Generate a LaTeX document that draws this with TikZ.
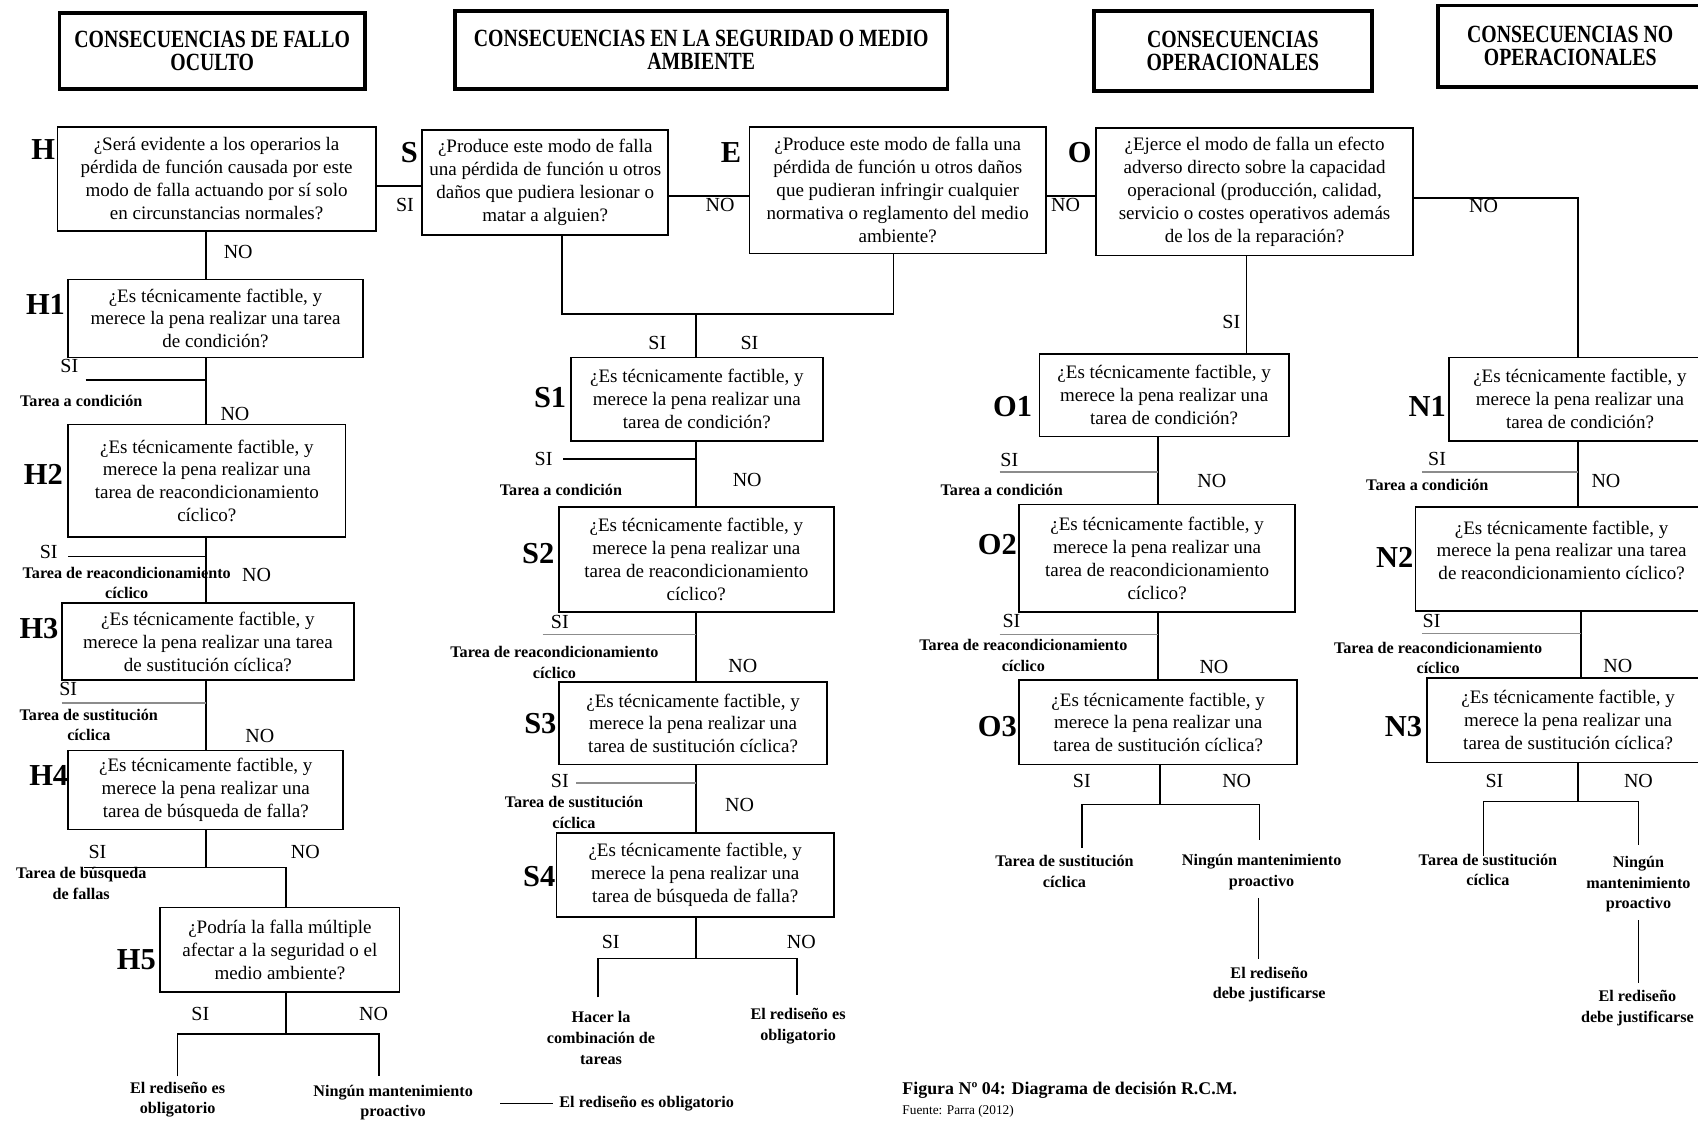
\documentclass[tikz,border=0pt]{standalone}
\usepackage{fontspec}
\setmainfont{Liberation Serif}
\newfontfamily\headfont{Liberation Serif}[FakeStretch=0.8]
\usepackage{tikz}

\begin{document}
\begin{tikzpicture}[x=0.02cm, y=-0.02cm,
    headbox/.style 2 args={draw, line width=2pt, align=center, inner sep=0pt,
      minimum width=#1*0.02cm, minimum height=#2*0.02cm,
      font=\headfont\fontsize{13}{12.5}\selectfont\bfseries},
    qbox/.style 2 args={draw, line width=0.9pt, align=center, inner sep=0pt,
      minimum width=#1*0.02cm, minimum height=#2*0.02cm,
      font=\fontsize{10}{12}\selectfont},
    tag/.style={inner sep=0pt, font=\fontsize{16}{16}\selectfont\bfseries},
    ans/.style={inner sep=0pt, font=\fontsize{10.5}{12}\selectfont},
    task/.style={inner xsep=0pt, inner ysep=4pt, align=center,
      font=\fontsize{8.5}{10.8}\selectfont\bfseries},
    link/.style={line width=0.9pt},
    glink/.style={line width=0.9pt, black!45}]
  \useasboundingbox (0,0) rectangle (1568,1037);
  \clip (0,0) rectangle (1568,1037);

  % headers
  \node[headbox={282}{70}] (hdfo) at (196,47) {CONSECUENCIAS DE FALLO\\OCULTO};
  \node[headbox={455}{72}] (hdsm) at (647.5,46) {CONSECUENCIAS EN LA SEGURIDAD O MEDIO\\AMBIENTE};
  \node[headbox={257}{74}] (hdop) at (1138.5,47) {CONSECUENCIAS\\OPERACIONALES};
  \node[headbox={244}{75}] (hdno) at (1450,42.5) {CONSECUENCIAS NO\\OPERACIONALES};

  % fallo oculto
  \node[qbox={294}{96}] (h) at (200,165) {¿Será evidente a los operarios la\\pérdida de función causada por este\\modo de falla actuando por sí solo\\en circunstancias normales?};
  \node[qbox={272}{72}] (h1) at (199,294) {¿Es técnicamente factible, y\\merece la pena realizar una tarea\\de condición?};
  \node[qbox={256}{104}] (h2) at (191,444) {¿Es técnicamente factible, y\\merece la pena realizar una\\tarea de reacondicionamiento\\cíclico?};
  \node[qbox={270}{71}] (h3) at (192,592.5) {¿Es técnicamente factible, y\\merece la pena realizar una tarea\\de sustitución cíclica?};
  \node[qbox={254}{73}] (h4) at (190,729.5) {¿Es técnicamente factible, y\\merece la pena realizar una\\tarea de búsqueda de falla?};
  \node[qbox={221}{78}] (h5) at (258.5,877) {¿Podría la falla múltiple\\afectar a la seguridad o el\\medio ambiente?};

  % seguridad / medio ambiente
  \node[qbox={227}{97}] (s) at (503.5,168.5) {¿Produce este modo de falla\\una pérdida de función u otros\\daños que pudiera lesionar o\\matar a alguien?};
  \node[qbox={274}{117}] (e) at (829,175.5) {¿Produce este modo de falla una\\pérdida de función u otros daños\\que pudieran infringir cualquier\\normativa o reglamento del medio\\ambiente?};
  \node[qbox={233}{77}] (s1) at (643.5,368.5) {¿Es técnicamente factible, y\\merece la pena realizar una\\tarea de condición?};
  \node[qbox={254}{97}] (s2) at (643,516.5) {¿Es técnicamente factible, y\\merece la pena realizar una\\tarea de reacondicionamiento\\cíclico?};
  \node[qbox={248}{76}] (s3) at (640,668) {¿Es técnicamente factible, y\\merece la pena realizar una\\tarea de sustitución cíclica?};
  \node[qbox={256}{78}] (s4) at (642,808) {¿Es técnicamente factible, y\\merece la pena realizar una\\tarea de búsqueda de falla?};

  % operacionales
  \node[qbox={293}{118}] (o) at (1158.5,177) {¿Ejerce el modo de falla un efecto\\adverso directo sobre la capacidad\\operacional (producción, calidad,\\servicio o costes operativos además\\de los de la reparación?};
  \node[qbox={230}{76}] (o1) at (1075,365) {¿Es técnicamente factible, y\\merece la pena realizar una\\tarea de condición?};
  \node[qbox={255}{99}] (o2) at (1068.5,515.5) {¿Es técnicamente factible, y\\merece la pena realizar una\\tarea de reacondicionamiento\\cíclico?};
  \node[qbox={257}{78}] (o3) at (1069.5,667) {¿Es técnicamente factible, y\\merece la pena realizar una\\tarea de sustitución cíclica?};

  % no operacionales
  \node[qbox={242}{77}] (n1) at (1459,368.5) {¿Es técnicamente factible, y\\merece la pena realizar una\\tarea de condición?};
  \node[qbox={270}{96}] (n2) at (1442,516) {¿Es técnicamente factible, y\\merece la pena realizar una tarea\\de reacondicionamiento cíclico?\\[-3pt]};
  \node[qbox={260}{78}] (n3) at (1448,665) {¿Es técnicamente factible, y\\merece la pena realizar una\\tarea de sustitución cíclica?};

  % tags
  \node[tag] (th) at (40,138) {H};
  \node[tag] (th1) at (42,281) {H1};
  \node[tag] (th2) at (40,438) {H2};
  \node[tag] (th3) at (36,580) {H3};
  \node[tag] (th4) at (45,716) {H4};
  \node[tag] (th5) at (126,886) {H5};
  \node[tag] (ts) at (378,141) {S};
  \node[tag] (te) at (675,141) {E};
  \node[tag] (to) at (997,141) {O};
  \node[tag] (ts1) at (508,367) {S1};
  \node[tag] (ts2) at (497,511) {S2};
  \node[tag] (ts3) at (499,668) {S3};
  \node[tag] (ts4) at (498,809) {S4};
  \node[tag] (to1) at (935,375) {O1};
  \node[tag] (to2) at (921,503) {O2};
  \node[tag] (to3) at (921,671) {O3};
  \node[tag] (tn1) at (1318,375) {N1};
  \node[tag] (tn2) at (1288,515) {N2};
  \node[tag] (tn3) at (1296,671) {N3};

  % answers
  \node[ans] (hno) at (220,233) {NO};
  \node[ans] (h1si) at (64,338) {SI};
  \node[ans] (h1no) at (217,382) {NO};
  \node[ans] (h2si) at (45,510) {SI};
  \node[ans] (h2no) at (237,531) {NO};
  \node[ans] (h3si) at (63,636) {SI};
  \node[ans] (h3no) at (240,680) {NO};
  \node[ans] (h4si) at (90,787) {SI};
  \node[ans] (h4no) at (282,787) {NO};
  \node[ans] (h5si) at (185,936) {SI};
  \node[ans] (h5no) at (345,936) {NO};
  \node[ans] (hsi) at (374,189) {SI};
  \node[ans] (sno) at (665,189) {NO};
  \node[ans] (eno) at (984,189) {NO};
  \node[ans] (ono) at (1370,190) {NO};
  \node[ans] (osi) at (1137,297) {SI};
  \node[ans] (ssi) at (607,317) {SI};
  \node[ans] (esi) at (692,317) {SI};
  \node[ans] (s1si) at (502,424) {SI};
  \node[ans] (s1no) at (690,443) {NO};
  \node[ans] (s2si) at (517,574) {SI};
  \node[ans] (s2no) at (686,615) {NO};
  \node[ans] (s3si) at (517,721) {SI};
  \node[ans] (s3no) at (683,743) {NO};
  \node[ans] (s4si) at (564,870) {SI};
  \node[ans] (s4no) at (740,870) {NO};
  \node[ans] (o1si) at (932,425) {SI};
  \node[ans] (o1no) at (1119,444) {NO};
  \node[ans] (o2si) at (934,573) {SI};
  \node[ans] (o2no) at (1121,616) {NO};
  \node[ans] (o3si) at (999,721) {SI};
  \node[ans] (o3no) at (1142,721) {NO};
  \node[ans] (n1si) at (1327,424) {SI};
  \node[ans] (n1no) at (1483,444) {NO};
  \node[ans] (n2si) at (1322,573) {SI};
  \node[ans] (n2no) at (1494,615) {NO};
  \node[ans] (n3si) at (1380,721) {SI};
  \node[ans] (n3no) at (1513,721) {NO};

  % tasks and outcomes
  \node[task] (h1t) at (75,370) {Tarea a condición};
  \node[task] (h2t) at (117,538.5) {Tarea de reacondicionamiento\\cíclico};
  \node[task] (h3t) at (82,669.5) {Tarea de sustitución\\cíclica};
  \node[task] (h4t) at (75,816) {Tarea de búsqueda\\de fallas};
  \node[task] (h5a) at (164,1015.5) {El rediseño es\\obligatorio};
  \node[task] (h5b) at (363,1018) {Ningún mantenimiento\\proactivo};
  \node[task] (s1t) at (518,452) {Tarea a condición};
  \node[task] (s2t) at (512,611.5) {Tarea de reacondicionamiento\\cíclico};
  \node[task] (s3t) at (530,750) {Tarea de sustitución\\cíclica};
  \node[task] (s4a) at (555,958.5) {Hacer la\\combinación de\\tareas};
  \node[task] (s4b) at (737,947.5) {El rediseño es\\obligatorio};
  \node[task] (o1t) at (925,452) {Tarea a condición};
  \node[task] (o2t) at (945,605.5) {Tarea de reacondicionamiento\\cíclico};
  \node[task] (o3a) at (983,804.5) {Tarea de sustitución\\cíclica};
  \node[task] (o3b) at (1165,805.5) {Ningún mantenimiento\\proactivo};
  \node[task] (o3c) at (1172,909) {El rediseño\\debe justificarse};
  \node[task] (n1t) at (1318,448) {Tarea a condición};
  \node[task] (n2t) at (1328,607.5) {Tarea de reacondicionamiento\\cíclico};
  \node[task] (n3a) at (1374,803.5) {Tarea de sustitución\\cíclica};
  \node[task] (n3b) at (1513,816.5) {Ningún\\mantenimiento\\proactivo};
  \node[task] (n3c) at (1512,931) {El rediseño\\debe justificarse};
  \node[task, anchor=west, inner xsep=3pt] (lgd) at (511,1019) {El rediseño es obligatorio};
  \node[task, anchor=west, font=\fontsize{9.4}{11}\selectfont\bfseries] (cap) at (833,1007) {Figura Nº 04: Diagrama de decisión R.C.M.};
  \node[anchor=west, inner sep=0pt, font=\fontsize{7}{8}\selectfont] (src) at (833,1026) {Fuente: Parra (2012)};

  % spines and helpers
  \coordinate (xh) at (190,0);
  \coordinate (xh5) at (264,0);
  \coordinate (xs) at (643,0);
  \coordinate (xsj) at (519,0);
  \coordinate (xej) at (825,0);
  \coordinate (xoo) at (1151,0);
  \coordinate (xo) at (1069,0);
  \coordinate (xn) at (1457,0);
  \coordinate (xn2) at (1460,0);
  \coordinate (xo3d) at (1162,0);
  \coordinate (xn3d) at (1513,0);
  \coordinate (yhs) at (0,172);
  \coordinate (yse) at (0,181);
  \coordinate (yon) at (0,183);
  \coordinate (yjoin) at (0,290);

  % connectors, fallo oculto
  \draw[link] (h.south -| xh) -- (h1.north -| xh);
  \draw[link] (h1.south -| xh) -- (h2.north -| xh);
  \draw[link] (h2.south -| xh) -- (h3.north -| xh);
  \draw[link] (h3.south -| xh) -- (h4.north -| xh);
  \coordinate (h1e) at (79,351);
  \coordinate (h2e) at (63,514);
  \coordinate (h3e) at (57,649);
  \coordinate (h4e) at (78,801);
  \draw[link] (h1e) -- (h1e -| xh);
  \draw[link] (h2e) -- (h2e -| xh);
  \draw[glink] (h3e) -- (h3e -| xh);
  \draw[link] (h4.south -| xh) -- (h4e -| xh);
  \draw[link] (h4e) -| (h5.north -| xh5);
  \coordinate (h5f) at (264,955);
  \coordinate (h5l) at (164,994);
  \coordinate (h5r) at (350,994);
  \draw[link] (h5.south -| xh5) -- (h5f);
  \draw[link] (h5l) |- (h5f) -| (h5r);

  % connectors, top row
  \draw[link] (h.east |- yhs) -- (s.west |- yhs);
  \draw[link] (s.east |- yse) -- (e.west |- yse);
  \draw[link] (e.east |- yse) -- (o.west |- yse);
  \draw[link] (o.east |- yon) -| (n1.north -| xn);
  \draw[link] (o.south -| xoo) -- (o1.north -| xoo);
  \draw[link] (s.south -| xsj) -- (xsj |- yjoin) -- (xej |- yjoin) -- (e.south -| xej);
  \draw[link] (xs |- yjoin) -- (s1.north -| xs);

  % connectors, seguridad
  \draw[link] (s1.south -| xs) -- (s2.north -| xs);
  \draw[link] (s2.south -| xs) -- (s3.north -| xs);
  \draw[link] (s3.south -| xs) -- (s4.north -| xs);
  \coordinate (s1e) at (520,424);
  \coordinate (s2e) at (501,586);
  \coordinate (s3e) at (532,723);
  \draw[link] (s1e) -- (s1e -| xs);
  \draw[glink] (s2e) -- (s2e -| xs);
  \draw[glink] (s3e) -- (s3e -| xs);
  \coordinate (s4f) at (643,885);
  \coordinate (s4l) at (552,921);
  \coordinate (s4r) at (736,919);
  \draw[link] (s4.south -| xs) -- (s4f);
  \draw[link] (s4l) |- (s4f) -| (s4r);
  \coordinate (lgdl) at (462,1019);
  \draw[link] (lgdl) -- (lgd.west);

  % connectors, operacionales
  \draw[link] (o1.south -| xo) -- (o2.north -| xo);
  \draw[link] (o2.south -| xo) -- (o3.north -| xo);
  \coordinate (o1e) at (923,436);
  \coordinate (o2e) at (923,586);
  \draw[glink] (o1e) -- (o1e -| xo);
  \draw[glink] (o2e) -- (o2e -| xo);
  \coordinate (o3f) at (1071,743);
  \coordinate (o3l) at (999,783);
  \coordinate (o3r) at (1163,776);
  \draw[link] (o3.south -| o3f) -- (o3f);
  \draw[link] (o3l) |- (o3f) -| (o3r);
  \draw[link] (o3b.south -| xo3d) -- (o3c.north -| xo3d);

  % connectors, no operacionales
  \draw[link] (n1.south -| xn) -- (n2.north -| xn);
  \draw[link] (n2.south -| xn2) -- (n3.north -| xn2);
  \coordinate (n1e) at (1313,436);
  \coordinate (n2e) at (1313,585);
  \draw[glink] (n1e) -- (n1e -| xn);
  \draw[glink] (n2e) -- (n2e -| xn2);
  \coordinate (n3f) at (1457,740);
  \coordinate (n3l) at (1370,790);
  \coordinate (n3r) at (1513,780);
  \draw[link] (n3.south -| n3f) -- (n3f);
  \draw[link] (n3l) |- (n3f) -| (n3r);
  \draw[link] (n3b.south -| xn3d) -- (n3c.north -| xn3d);
\end{tikzpicture}
\end{document}
